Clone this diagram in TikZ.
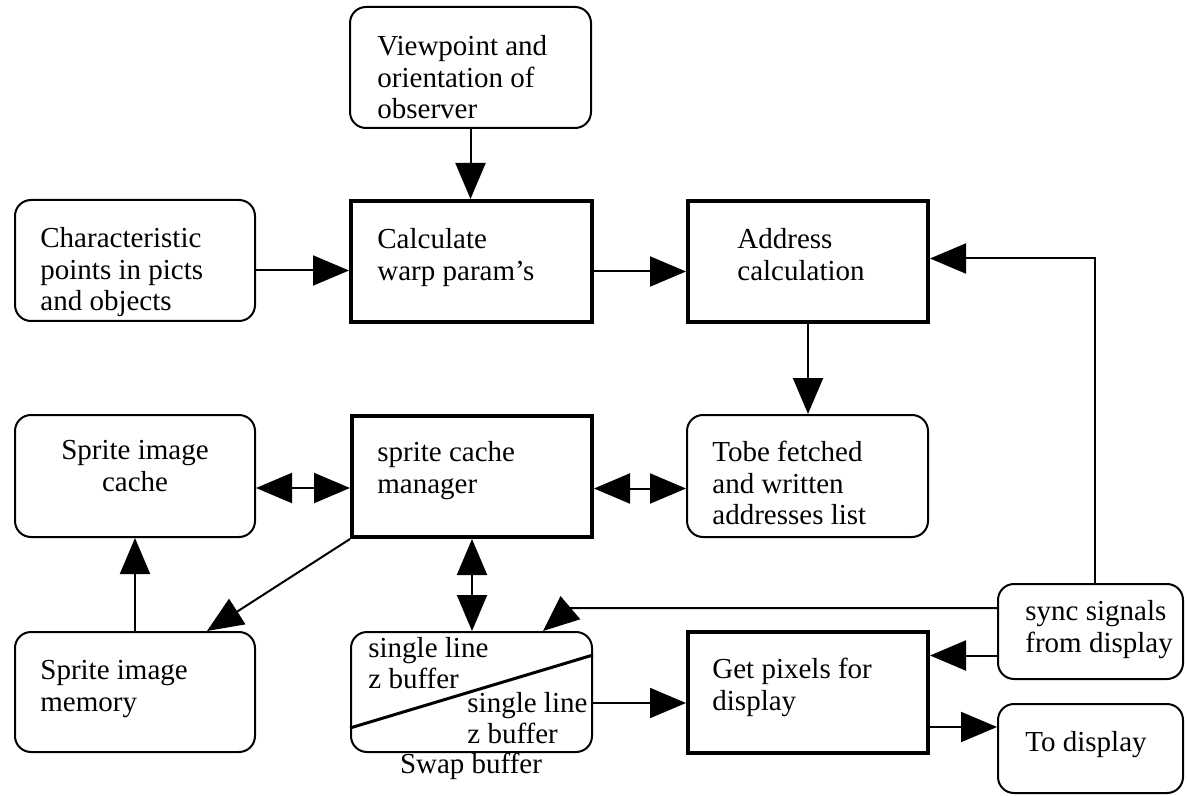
\documentclass[tikz,border=0pt]{standalone}
\usepackage{fontspec}
\setmainfont{Liberation Serif}
\usetikzlibrary{arrows.meta}
\begin{document}
\begin{tikzpicture}[x=0.5pt,y=-0.5pt,
  roundbox/.style={draw, line width=1pt, rounded corners=8pt, inner sep=0pt},
  heavybox/.style={draw, line width=2pt, inner sep=0pt},
  txt/.style={inner sep=0pt, align=left, anchor=west, font=\fontsize{14.5}{15.75}\selectfont},
  ctxt/.style={txt, align=center, anchor=center},
  wire/.style={line width=1pt},
  arr/.style={wire, -{Triangle[length=18pt,width=15pt]}},
  darr/.style={wire, {Triangle[length=18pt,width=15pt]}-{Triangle[length=18pt,width=15pt]}},
]
\useasboundingbox (0,0) rectangle (1187,796);

% top row
\node[roundbox, minimum width=120.5pt, minimum height=60.5pt] (view) at (470.5,67.5) {};
\node[txt] (view-t) at (377,81) {Viewpoint and\strut\\orientation of\strut\\observer\strut};

% first row
\node[roundbox, minimum width=120pt, minimum height=60.5pt] (char) at (135,260.5) {};
\node[txt] (char-t) at (40,273) {Characteristic\strut\\points in picts\strut\\and objects\strut};
\node[heavybox, minimum width=120.5pt, minimum height=60.5pt] (calc) at (471.5,261.5) {};
\node[txt] (calc-t) at (377,258) {Calculate\strut\\warp param’s\strut};
\node[heavybox, minimum width=120pt, minimum height=60.5pt] (addr) at (808,261.5) {};
\node[txt] (addr-t) at (737,258) {Address\strut\\calculation\strut};

% second row
\node[roundbox, minimum width=120pt, minimum height=61pt] (cache) at (135,476) {};
\node[ctxt] (cache-t) at (135,469) {Sprite image\strut\\cache\strut};
\node[heavybox, minimum width=120pt, minimum height=60.5pt] (mgr) at (472,476.5) {};
\node[txt] (mgr-t) at (377,471) {sprite cache\strut\\manager\strut};
\node[roundbox, minimum width=120.5pt, minimum height=61pt] (tobe) at (807.5,476) {};
\node[txt] (tobe-t) at (712,487) {Tobe fetched\strut\\and written\strut\\addresses list\strut};

% third row
\node[roundbox, minimum width=120pt, minimum height=60pt] (mem) at (135,692) {};
\node[txt] (mem-t) at (40,689) {Sprite image\strut\\memory\strut};
\node[roundbox, minimum width=120.5pt, minimum height=60pt] (swap) at (471.5,692) {};
\node[txt] (swap-a) at (368,666.5) {single line\strut\\z buffer\strut};
\node[txt] (swap-b) at (467,721.5) {single line\strut\\z buffer\strut};
\node[ctxt] (swap-l) at (471,767) {Swap buffer\strut};
\node[heavybox, minimum width=120pt, minimum height=60.5pt] (getpix) at (808,692.5) {};
\node[txt] (getpix-t) at (712,688) {Get pixels for\strut\\display\strut};

% display side
\node[roundbox, minimum width=92.5pt, minimum height=47.5pt] (sync) at (1090.5,631.5) {};
\node[txt] (sync-t) at (1025,630) {sync signals\strut\\from display\strut};
\node[roundbox, minimum width=92.5pt, minimum height=44.5pt] (todisp) at (1090.5,748.5) {};
\node[txt] (todisp-t) at (1025,745) {To display\strut};

% swap buffer split
\draw[line width=1.5pt] ([yshift=-18pt]swap.west) -- ([yshift=18.5pt]swap.east);

% connectors
\draw[arr] (view.south) -- (view.south |- calc.north);
\draw[arr] ([yshift=-5pt]char.east) -- ([yshift=-5pt]char.east -| calc.west);
\draw[arr] ([yshift=-5pt]calc.east) -- ([yshift=-5pt]calc.east -| addr.west);
\draw[arr] ([xshift=2pt]sync.north) |- ([yshift=1.5pt]addr.east);
\draw[arr] (addr.south) -- (addr.south |- tobe.north);
\draw[darr] ([yshift=-6pt]cache.east) -- ([yshift=-6pt]cache.east -| mgr.west);
\draw[darr] ([yshift=-6pt]mgr.east) -- ([yshift=-6pt]mgr.east -| tobe.west);
\draw[arr] (mem.north) -- (mem.north |- cache.south);
\draw[arr] (mgr.south west) -- ([xshift=36pt]mem.north);
\draw[darr] (mgr.south) -- (mgr.south |- swap.north);
\draw[arr] ([yshift=-5.5pt]swap.east) -- ([yshift=-5.5pt]swap.east -| getpix.west);
\draw[arr] ([yshift=-12pt]sync.west) -- ([yshift=-12pt]sync.west -| getpix.east);
\draw[arr] ([yshift=10.75pt]todisp.west -| getpix.east) -- ([yshift=10.75pt]todisp.west);
\coordinate (kink) at (570,608);
\draw[arr] ([yshift=11.75pt]sync.west) -- (kink) -- ([xshift=35.75pt]swap.north);
\end{tikzpicture}
\end{document}
